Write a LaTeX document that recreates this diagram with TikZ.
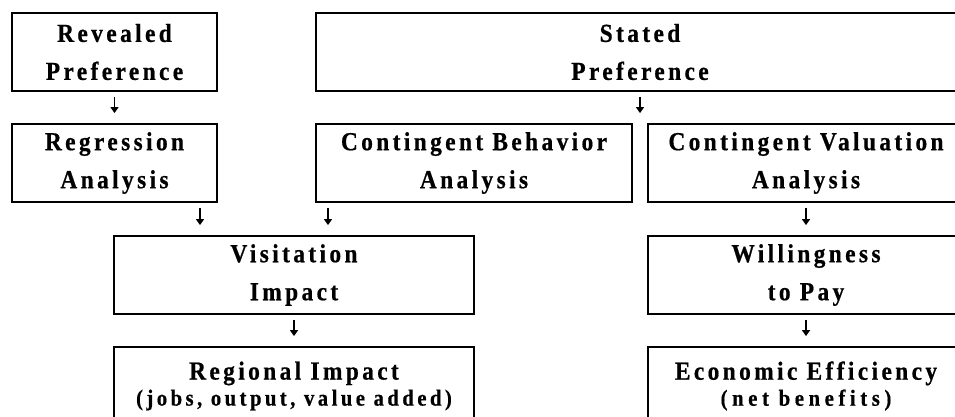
\documentclass[tikz,border=0pt]{standalone}
\usepackage{fontspec}
\setmainfont{Liberation Serif}
\newfontfamily\chartfont{Liberation Serif}[LetterSpace=13,FakeStretch=0.9,FakeBold=0.6]
\usetikzlibrary{arrows.meta}

\newcommand\noteline[2]{{\fontsize{23}{24}\selectfont\addfontfeature{LetterSpace=#1}#2}}

\tikzset{
  stage/.style={draw, line width=1.8pt, minimum height=78pt, inner sep=0pt, align=center,
    font=\chartfont\bfseries\fontsize{26}{38}\selectfont},
  flow/.style={-{Triangle[length=6pt,width=8pt]}, line width=1.4pt, shorten <=5pt, shorten >=10pt}
}

\begin{document}
\begin{tikzpicture}[x=1pt,y=-1pt]
\useasboundingbox (0,0) rectangle (955,417);
\clip (0,0) rectangle (955,417);

\node[stage,minimum width=205pt] (RP) at (114.5,52) {Revealed\\Preference};
\node[stage,minimum width=648pt] (SP) at (640,52) {Stated\\Preference};

\node[stage,minimum width=205pt] (RA) at (114.5,163) {Regression\\Analysis};
\node[stage,minimum width=316pt] (CB) at (474,163) {Contingent Behavior\\Analysis};
\node[stage,minimum width=316pt] (CV) at (806,163) {Contingent Valuation\\Analysis};

\node[stage,minimum width=360pt] (VI) at (294,275) {Visitation\\Impact};
\node[stage,minimum width=316pt] (WP) at (806,275) {Willingness\\to Pay};

\node[stage,minimum width=360pt] (RI) at (294,386) {Regional Impact\\[-12pt]\noteline{15}{(jobs, output, value added)}};
\node[stage,minimum width=316pt] (EE) at (806,386) {Economic Efficiency\\[-12pt]\noteline{20}{(net benefits)}};

\draw[flow] (RP) -- (RA);
\draw[flow] (SP.south) -- (SP.south |- CB.north);
\draw[flow] ([xshift=85.5pt]RA.south) -- ([xshift=85.5pt]RA.south |- VI.north);
\draw[flow] ([xshift=-146pt]CB.south) -- ([xshift=-146pt]CB.south |- VI.north);
\draw[flow] (CV) -- (WP);
\draw[flow] (VI) -- (RI);
\draw[flow] (WP) -- (EE);
\end{tikzpicture}
\end{document}
